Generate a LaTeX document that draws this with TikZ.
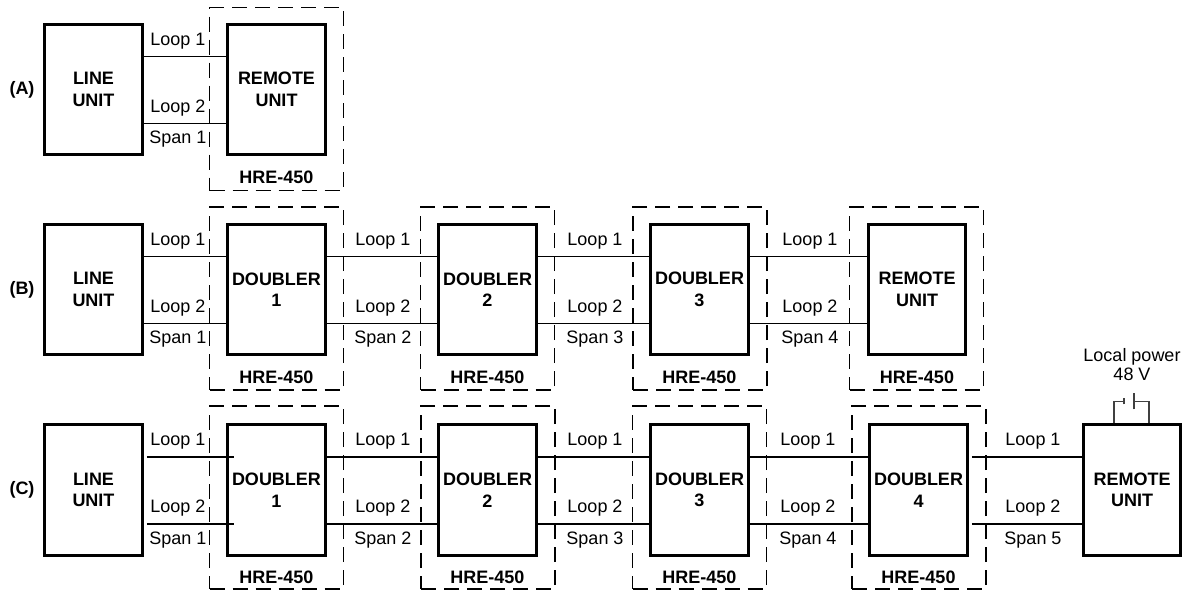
\documentclass[tikz,border=0pt]{standalone}
\usepackage{fontspec}
\setmainfont{Liberation Sans}
\usetikzlibrary{positioning, calc}

\begin{document}
\begin{tikzpicture}[
    x=1pt, y=-1pt,
    unit/.style={draw, line width=3pt, minimum width=97.5pt, minimum height=130.5pt, inner sep=0pt, align=center, font=\fontsize{18}{21.5}\selectfont\bfseries},
    hrebox/.style={draw, line width=1.6pt, dash pattern=on 15pt off 8pt, minimum width=134pt, minimum height=183pt},
    wire/.style={line width=1.6pt},
    lbl/.style={inner sep=0pt, font=\fontsize{18}{21}\selectfont},
    tag/.style={inner sep=0pt, font=\fontsize{18}{21}\selectfont\bfseries},
    batt/.style={line width=1.1pt, black!75},
]
\useasboundingbox (0,0) rectangle (1187,592);

% ============ (A) direct ============
\node[tag] (rowA) at (22,90) {(A)};
\node[unit] (luA) at (93.5,89.5) {LINE\\UNIT};
\node[hrebox] (bxA) at (276.5,99) {};
\node[unit] (ruA) at (276.5,89.5) {REMOTE\\UNIT};
\node[tag, below=14pt of ruA] (hA) {HRE-450};

\draw[wire] ($(luA.east)+(0,-33)$) -- ($(ruA.west)+(0,-33)$);
\draw[wire] ($(luA.east)+(0,34)$) -- ($(ruA.west)+(0,34)$);

\node[lbl] (l1A) at (178,41) {Loop 1};
\node[lbl] (l2A) at (178,108) {Loop 2};
\node[lbl] (s1A) at (178,139.5) {Span 1};

% ============ (B) three doublers ============
\node[tag] (rowB) at (22,290) {(B)};
\node[unit] (luB) at (93.5,289.5) {LINE\\UNIT};

\node[hrebox] (bxB1) at (276.5,298.5) {};
\node[unit] (dB1) at (276.5,289.5) {DOUBLER\\1};
\node[tag, below=14pt of dB1] (hB1) {HRE-450};

\node[hrebox] (bxB2) at (487.5,298.5) {};
\node[unit] (dB2) at (487.5,289.5) {DOUBLER\\2};
\node[tag, below=14pt of dB2] (hB2) {HRE-450};

\node[hrebox] (bxB3) at (700,298.5) {};
\node[unit] (dB3) at (699.5,289.5) {DOUBLER\\3};
\node[tag, below=14pt of dB3] (hB3) {HRE-450};

\node[hrebox] (bxB4) at (916.5,298.5) {};
\node[unit] (ruB) at (917,289.5) {REMOTE\\UNIT};
\node[tag, below=14pt of ruB] (hB4) {HRE-450};

% spans
\draw[wire] ($(luB.east)+(0,-33)$) -- ($(dB1.west)+(0,-33)$);
\draw[wire] ($(luB.east)+(0,34)$) -- ($(dB1.west)+(0,34)$);
\draw[wire] ($(dB1.east)+(0,-33)$) -- ($(dB2.west)+(0,-33)$);
\draw[wire] ($(dB1.east)+(0,34)$) -- ($(dB2.west)+(0,34)$);
\draw[wire] ($(dB2.east)+(0,-33)$) -- ($(dB3.west)+(0,-33)$);
\draw[wire] ($(dB2.east)+(0,34)$) -- ($(dB3.west)+(0,34)$);
\draw[wire] ($(dB3.east)+(0,-33)$) -- ($(ruB.west)+(0,-33)$);
\draw[wire] ($(dB3.east)+(0,34)$) -- ($(ruB.west)+(0,34)$);

\node[lbl] (l1B1) at (178,241) {Loop 1};
\node[lbl] (l2B1) at (178,308) {Loop 2};
\node[lbl] (s1B) at (178,339.5) {Span 1};
\node[lbl] (l1B2) at (383,241) {Loop 1};
\node[lbl] (l2B2) at (383,308) {Loop 2};
\node[lbl] (s2B) at (383,339.5) {Span 2};
\node[lbl] (l1B3) at (595,241) {Loop 1};
\node[lbl] (l2B3) at (595,308) {Loop 2};
\node[lbl] (s3B) at (595,339.5) {Span 3};
\node[lbl] (l1B4) at (810,241) {Loop 1};
\node[lbl] (l2B4) at (810,308) {Loop 2};
\node[lbl] (s4B) at (810,339.5) {Span 4};

% ============ (C) four doublers, locally powered remote ============
\node[tag] (rowC) at (22,490) {(C)};
\node[unit] (luC) at (93.5,490) {LINE\\UNIT};

\node[hrebox] (bxC1) at (276.5,497.5) {};
\node[unit] (dC1) at (276.5,490) {DOUBLER\\1};
\node[tag, below=14pt of dC1] (hC1) {HRE-450};

\node[hrebox] (bxC2) at (488,497.5) {};
\node[unit] (dC2) at (487.5,490) {DOUBLER\\2};
\node[tag, below=14pt of dC2] (hC2) {HRE-450};

\node[hrebox] (bxC3) at (699.5,497.5) {};
\node[unit] (dC3) at (699.5,490) {DOUBLER\\3};
\node[tag, below=14pt of dC3] (hC3) {HRE-450};

\node[hrebox] (bxC4) at (919,497.5) {};
\node[unit] (dC4) at (918.5,490) {DOUBLER\\4};
\node[tag, below=14pt of dC4] (hC4) {HRE-450};

\node[unit] (ruC) at (1132,490) {REMOTE\\UNIT};

% spans
\draw[wire] ($(luC.east)+(3,-33)$) -- ($(dC1.west)+(8,-33)$);
\draw[wire] ($(luC.east)+(3,34)$) -- ($(dC1.west)+(8,34)$);
\draw[wire] ($(dC1.east)+(0,-33)$) -- ($(dC2.west)+(0,-33)$);
\draw[wire] ($(dC1.east)+(0,34)$) -- ($(dC2.west)+(0,34)$);
\draw[wire] ($(dC2.east)+(0,-33)$) -- ($(dC3.west)+(0,-33)$);
\draw[wire] ($(dC2.east)+(0,34)$) -- ($(dC3.west)+(0,34)$);
\draw[wire] ($(dC3.east)+(0,-33)$) -- ($(dC4.west)+(0,-33)$);
\draw[wire] ($(dC3.east)+(0,34)$) -- ($(dC4.west)+(0,34)$);
\draw[wire] ($(dC4.east)+(3,-33)$) -- ($(ruC.west)+(0,-33)$);
\draw[wire] ($(dC4.east)+(3,34)$) -- ($(ruC.west)+(0,34)$);

\node[lbl] (l1C1) at (178,441.5) {Loop 1};
\node[lbl] (l2C1) at (178,508.5) {Loop 2};
\node[lbl] (s1C) at (178,540) {Span 1};
\node[lbl] (l1C2) at (383,441.5) {Loop 1};
\node[lbl] (l2C2) at (383,508.5) {Loop 2};
\node[lbl] (s2C) at (383,540) {Span 2};
\node[lbl] (l1C3) at (595,441.5) {Loop 1};
\node[lbl] (l2C3) at (595,508.5) {Loop 2};
\node[lbl] (s3C) at (595,540) {Span 3};
\node[lbl] (l1C4) at (808,441.5) {Loop 1};
\node[lbl] (l2C4) at (808,508.5) {Loop 2};
\node[lbl] (s4C) at (808,540) {Span 4};
\node[lbl] (l1C5) at (1033,441.5) {Loop 1};
\node[lbl] (l2C5) at (1033,508.5) {Loop 2};
\node[lbl] (s5C) at (1033,540) {Span 5};

% local battery on the remote unit
\node[lbl, align=center, font=\fontsize{18}{19}\selectfont] (pwr) at (1132,365) {Local power\\48 V};
\draw[batt] ($(ruC.north)+(-18,0)$) |- ($(ruC.north)+(-8,-22)$);
\draw[batt] ($(ruC.north)+(-8,-19)$) -- ++(0,-6);
\draw[batt] ($(ruC.north)+(2,-14)$) -- ++(0,-16);
\draw[batt] ($(ruC.north)+(2,-22)$) -| ($(ruC.north)+(17,0)$);

\end{tikzpicture}
\end{document}
